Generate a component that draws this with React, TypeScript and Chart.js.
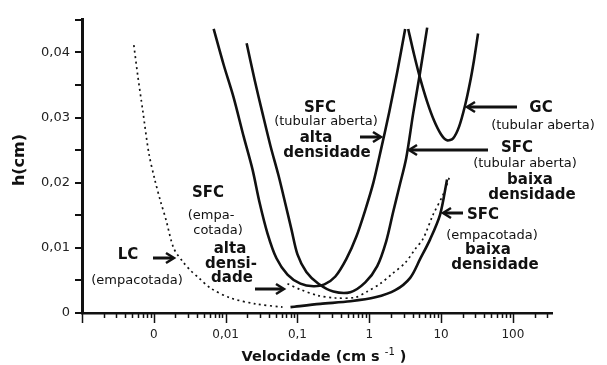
import React, { useEffect, useRef } from 'react';
import { Chart, registerables } from 'chart.js';

Chart.register(...registerables);

// ---- Data (velocity in cm/s, plate height h in cm) ----
const lcVel = [0.000527, 0.0006, 0.000703, 0.000853, 0.00103, 0.00125, 0.00147, 0.0019, 0.00261, 0.00327, 0.00422, 0.00619, 0.0117, 0.0261, 0.0619];
const lcH = [0.0411, 0.0363, 0.031, 0.0245, 0.0205, 0.017, 0.0144, 0.0099, 0.0077, 0.0065, 0.0054, 0.0038, 0.0023, 0.0014, 0.0009];

const otHighVel = [0.00681, 0.00938, 0.0129, 0.0178, 0.0237, 0.0296, 0.0383, 0.051, 0.0726, 0.11, 0.167, 0.237, 0.337, 0.48, 0.659, 0.879, 1.14, 1.47, 1.9, 2.45, 3.16];
const otHighH = [0.0436, 0.0381, 0.0331, 0.0271, 0.022, 0.017, 0.0122, 0.0084, 0.0059, 0.0045, 0.0041, 0.0044, 0.0056, 0.0083, 0.0117, 0.0158, 0.02, 0.0253, 0.0309, 0.037, 0.0436];

const otLowVel = [0.0196, 0.0253, 0.0327, 0.0422, 0.0545, 0.0681, 0.0826, 0.1, 0.133, 0.196, 0.316, 0.545, 0.879, 1.29, 1.72, 2.15, 2.61, 3.27, 4.08, 5.11, 6.4];
const otLowH = [0.0414, 0.0358, 0.0306, 0.0256, 0.0211, 0.0167, 0.0128, 0.009, 0.0063, 0.0045, 0.0033, 0.0032, 0.0047, 0.0072, 0.011, 0.0155, 0.0193, 0.0238, 0.0306, 0.037, 0.0438];

const packedDottedVel = [0.0726, 0.11, 0.19, 0.337, 0.64, 0.938, 1.42, 2.08, 3.16, 4.35, 5.62, 7.74, 10.7, 13.3];
const packedDottedH = [0.0045, 0.0036, 0.0027, 0.0023, 0.0024, 0.0033, 0.0045, 0.006, 0.0077, 0.0098, 0.0114, 0.0151, 0.0182, 0.0211];

const packedLowVel = [0.08, 0.208, 0.545, 1.21, 2.3, 3.71, 5.11, 7.03, 9.68, 12.1];
const packedLowH = [0.0009, 0.0014, 0.0018, 0.0024, 0.0035, 0.0054, 0.0083, 0.0113, 0.0151, 0.0205];

const gcVel = [3.48, 4.22, 5.11, 6.4, 8.0, 10.0, 12.1, 14.7, 17.8, 21.5, 25.3, 28.7, 32.7];
const gcH = [0.0436, 0.0396, 0.036, 0.0324, 0.0295, 0.0274, 0.0265, 0.0268, 0.0286, 0.0318, 0.0354, 0.0388, 0.0429];

const xTickValues = [0.001, 0.01, 0.1, 1, 10, 100];
const xTickLabels = ['0', '0,01', '0,1', '1', '10', '100'];
const yTickValues = [0, 0.01, 0.02, 0.03, 0.04];
const yTickLabels = ['0', '0,01', '0,02', '0,03', '0,04'];

const FONT = "'DejaVu Sans', 'Liberation Sans', sans-serif";
const INK = '#111';

// annotation texts (canvas pixel placement)
const notes = [
  { t: 'SFC', x: 320, y: 108, b: true },
  { t: '(tubular aberta)', x: 326, y: 122, b: false },
  { t: 'alta', x: 316, y: 138, b: true },
  { t: 'densidade', x: 327, y: 153, b: true },
  { t: 'GC', x: 541, y: 108, b: true },
  { t: '(tubular aberta)', x: 543, y: 126, b: false },
  { t: 'SFC', x: 517, y: 148, b: true },
  { t: '(tubular aberta)', x: 525, y: 164, b: false },
  { t: 'baixa', x: 530, y: 180, b: true },
  { t: 'densidade', x: 532, y: 195, b: true },
  { t: 'SFC', x: 483, y: 215, b: true },
  { t: '(empacotada)', x: 492, y: 236, b: false },
  { t: 'baixa', x: 488, y: 250, b: true },
  { t: 'densidade', x: 495, y: 265, b: true },
  { t: 'SFC', x: 208, y: 193, b: true },
  { t: '(empa-', x: 211, y: 216, b: false },
  { t: 'cotada)', x: 218, y: 231, b: false },
  { t: 'alta', x: 230, y: 249, b: true },
  { t: 'densi-', x: 231, y: 264, b: true },
  { t: 'dade', x: 232, y: 278, b: true },
  { t: 'LC', x: 128, y: 255, b: true },
  { t: '(empacotada)', x: 137, y: 281, b: false },
];

const arrows = [
  { x1: 153, x2: 174, y: 258 },
  { x1: 255, x2: 284, y: 289 },
  { x1: 360, x2: 381, y: 137 },
  { x1: 517, x2: 467, y: 107 },
  { x1: 488, x2: 409, y: 150 },
  { x1: 463, x2: 443, y: 213 },
];

export default function App() {
  const ref = useRef<HTMLCanvasElement>(null);

  useEffect(() => {
    const canvas = ref.current;
    if (!canvas) return;
    const pts = (xs: number[], ys: number[]) => xs.map((x, i) => ({ x, y: ys[i] }));
    const solid = {
      borderColor: INK,
      borderWidth: 2.6,
      pointRadius: 0,
      tension: 0.3,
      fill: false,
    };
    const dotted = { ...solid, borderWidth: 1.7, borderDash: [2, 3.5] };

    const decor = {
      id: 'decor',
      afterDraw(chart: any) {
        const ctx = chart.ctx as CanvasRenderingContext2D;
        const xs = chart.scales.x;
        const ys = chart.scales.y;
        const area = chart.chartArea;
        ctx.save();
        ctx.strokeStyle = INK;
        // x tick marks (major + minor)
        ctx.lineWidth = 1.5;
        for (let n = -4; n <= 2; n++) {
          for (let k = 1; k <= 9; k++) {
            const v = k * Math.pow(10, n);
            if (v < xs.min || v > xs.max) continue;
            const px = Math.round(xs.getPixelForValue(v)) + 0.5;
            const len = k === 1 ? 10 : 5;
            ctx.beginPath();
            ctx.moveTo(px, area.bottom);
            ctx.lineTo(px, area.bottom + len);
            ctx.stroke();
          }
        }
        // y tick marks
        ctx.lineWidth = 2;
        for (let i = 0; i <= 9; i++) {
          const py = Math.round(ys.getPixelForValue(i * 0.005));
          ctx.beginPath();
          ctx.moveTo(area.left - 7, py);
          ctx.lineTo(area.left, py);
          ctx.stroke();
        }
        // annotations
        ctx.fillStyle = INK;
        ctx.textAlign = 'center';
        ctx.textBaseline = 'middle';
        for (const n of notes) {
          ctx.font = n.b ? `bold 15px ${FONT}` : `13px ${FONT}`;
          ctx.fillText(n.t, n.x, n.y);
        }
        // arrows
        ctx.lineCap = 'butt';
        for (const a of arrows) {
          const dir = a.x2 > a.x1 ? 1 : -1;
          ctx.lineWidth = 3;
          ctx.beginPath();
          ctx.moveTo(a.x1, a.y);
          ctx.lineTo(a.x2 - dir * 2, a.y);
          ctx.stroke();
          ctx.lineWidth = 2.5;
          ctx.beginPath();
          ctx.moveTo(a.x2 - dir * 8, a.y - 5);
          ctx.lineTo(a.x2, a.y);
          ctx.lineTo(a.x2 - dir * 8, a.y + 5);
          ctx.stroke();
        }
        // y title
        ctx.save();
        ctx.translate(20, 160);
        ctx.rotate(-Math.PI / 2);
        ctx.font = `bold 16px ${FONT}`;
        ctx.fillText('h(cm)', 0, 0);
        ctx.restore();
        // x title with superscript
        const main = 'Velocidade (cm s ';
        const sup = '-1';
        const tail = ' )';
        ctx.textAlign = 'left';
        ctx.font = `bold 14.5px ${FONT}`;
        const wMain = ctx.measureText(main).width;
        const wTail = ctx.measureText(tail).width;
        ctx.font = `10px ${FONT}`;
        const wSup = ctx.measureText(sup).width;
        let x0 = 324 - (wMain + wSup + wTail) / 2;
        const yT = 357;
        ctx.font = `bold 14.5px ${FONT}`;
        ctx.fillText(main, x0, yT);
        x0 += wMain;
        ctx.font = `10px ${FONT}`;
        ctx.fillText(sup, x0, yT - 5);
        x0 += wSup;
        ctx.font = `bold 14.5px ${FONT}`;
        ctx.fillText(tail, x0, yT);
        ctx.restore();
      },
    };

    const chart = new Chart(canvas, {
      type: 'line',
      data: {
        datasets: [
          { label: 'LC (empacotada)', data: pts(lcVel, lcH), ...dotted },
          { label: 'SFC tubular aberta alta densidade', data: pts(otHighVel, otHighH), ...solid },
          { label: 'SFC tubular aberta baixa densidade', data: pts(otLowVel, otLowH), ...solid },
          { label: 'SFC empacotada (pontilhada)', data: pts(packedDottedVel, packedDottedH), ...dotted },
          { label: 'SFC empacotada baixa densidade', data: pts(packedLowVel, packedLowH), ...solid },
          { label: 'GC tubular aberta', data: pts(gcVel, gcH), ...solid },
        ] as any,
      },
      options: {
        responsive: false,
        animation: false,
        devicePixelRatio: 1,
        layout: { padding: { top: 14, right: 55, left: 0, bottom: 0 } },
        plugins: { legend: { display: false }, tooltip: { enabled: false }, title: { display: false } },
        scales: {
          x: {
            type: 'logarithmic',
            position: 'bottom',
            min: 0.0001,
            max: 350,
            afterBuildTicks: (s: any) => {
              s.ticks = xTickValues.map((v) => ({ value: v }));
            },
            afterFit: (s: any) => {
              s.height = 52;
            },
            ticks: {
              autoSkip: false,
              maxRotation: 0,
              padding: 15,
              color: '#222',
              font: { family: FONT, size: 12 },
              callback: (_v: any, i: number) => xTickLabels[i],
            },
            grid: { display: false, drawTicks: false },
            border: { display: true, color: INK, width: 2.5 },
          },
          y: {
            type: 'linear',
            min: 0,
            max: 0.045,
            afterBuildTicks: (s: any) => {
              s.ticks = yTickValues.map((v) => ({ value: v }));
            },
            afterFit: (s: any) => {
              s.width = 82;
            },
            ticks: {
              padding: 12,
              color: '#222',
              font: { family: FONT, size: 13 },
              callback: (_v: any, i: number) => yTickLabels[i],
            },
            grid: { display: false, drawTicks: false },
            border: { display: true, color: INK, width: 3 },
          },
        },
      } as any,
      plugins: [decor],
    });
    return () => chart.destroy();
  }, []);

  return (
    <div style={{ position: 'absolute', left: 0, top: 0, width: 607, height: 365, background: '#fff' }}>
      <canvas ref={ref} width={607} height={365} style={{ display: 'block', width: 607, height: 365 }} />
    </div>
  );
}
